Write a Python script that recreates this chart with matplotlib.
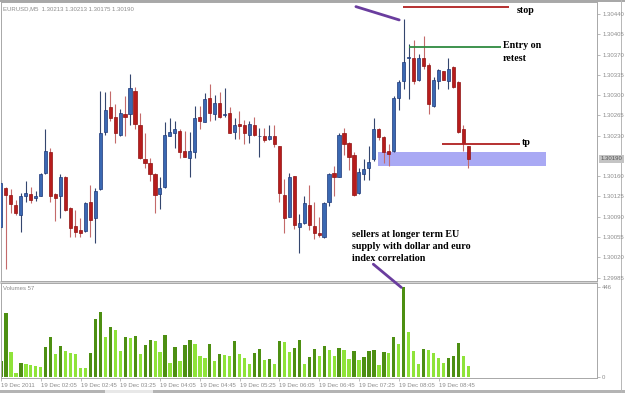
import matplotlib
matplotlib.use("Agg")
import matplotlib.pyplot as plt
from matplotlib.patches import Rectangle, ConnectionPatch

# ---------------- data ----------------
opens = [1.30073, 1.30140, 1.30128, 1.30111, 1.30093, 1.30126, 1.30130, 1.30122, 1.30125, 1.30166,
         1.30201, 1.30130, 1.30125, 1.30159, 1.30105, 1.30074, 1.30067, 1.30066, 1.30116, 1.30088,
         1.30138, 1.30237, 1.30279, 1.30263, 1.30232, 1.30268, 1.30267, 1.30308, 1.30249, 1.30190,
         1.30182, 1.30163, 1.30130, 1.30142, 1.30229, 1.30235, 1.30239, 1.30204, 1.30192, 1.30201,
         1.30263, 1.30253, 1.30296, 1.30267, 1.30287, 1.30265, 1.30270, 1.30237, 1.30251, 1.30249,
         1.30232, 1.30248, 1.30229, 1.30229, 1.30225, 1.30229, 1.30213, 1.30128, 1.30090, 1.30161,
         1.30073, 1.30079, 1.30111, 1.30074, 1.30062, 1.30055, 1.30116, 1.30166, 1.30159, 1.30234,
         1.30218, 1.30197, 1.30131, 1.30163, 1.30175, 1.30189, 1.30242, 1.30227, 1.30203, 1.30203,
         1.30296, 1.30324, 1.30364, 1.30365, 1.30327, 1.30365, 1.30352, 1.30281, 1.30324, 1.30341,
         1.30324, 1.30348, 1.30322, 1.30241, 1.30213]
highs = [1.30154, 1.30142, 1.30138, 1.30119, 1.30131, 1.30152, 1.30142, 1.30135, 1.30166, 1.30241,
         1.30209, 1.30131, 1.30164, 1.30161, 1.30107, 1.30102, 1.30088, 1.30116, 1.30145, 1.30140,
         1.30308, 1.30305, 1.30308, 1.30284, 1.30277, 1.30298, 1.30336, 1.30315, 1.30270, 1.30235,
         1.30192, 1.30166, 1.30159, 1.30253, 1.30261, 1.30256, 1.30241, 1.30239, 1.30237, 1.30281,
         1.30281, 1.30303, 1.30319, 1.30301, 1.30305, 1.30312, 1.30279, 1.30260, 1.30272, 1.30258,
         1.30255, 1.30263, 1.30244, 1.30244, 1.30248, 1.30248, 1.30213, 1.30156, 1.30166, 1.30161,
         1.30095, 1.30126, 1.30144, 1.30116, 1.30090, 1.30116, 1.30166, 1.30177, 1.30234, 1.30244,
         1.30220, 1.30201, 1.30175, 1.30190, 1.30213, 1.30260, 1.30244, 1.30229, 1.30215, 1.30298,
         1.30326, 1.30431, 1.30388, 1.30395, 1.30371, 1.30402, 1.30355, 1.30331, 1.30345, 1.30341,
         1.30365, 1.30350, 1.30324, 1.30249, 1.30213]
lows = [1.30069, 1.30000, 1.30097, 1.30093, 1.30064, 1.30116, 1.30114, 1.30118, 1.30125, 1.30163,
        1.30116, 1.30083, 1.30088, 1.30100, 1.30055, 1.30055, 1.30055, 1.30064, 1.30055, 1.30045,
        1.30137, 1.30232, 1.30255, 1.30218, 1.30230, 1.30230, 1.30249, 1.30242, 1.30190, 1.30175,
        1.30151, 1.30097, 1.30104, 1.30140, 1.30229, 1.30208, 1.30192, 1.30194, 1.30159, 1.30192,
        1.30241, 1.30253, 1.30255, 1.30258, 1.30260, 1.30263, 1.30234, 1.30225, 1.30225, 1.30215,
        1.30218, 1.30230, 1.30194, 1.30220, 1.30223, 1.30211, 1.30116, 1.30062, 1.30090, 1.30069,
        1.30028, 1.30078, 1.30067, 1.30052, 1.30055, 1.30054, 1.30109, 1.30125, 1.30158, 1.30196,
        1.30171, 1.30126, 1.30130, 1.30154, 1.30154, 1.30187, 1.30223, 1.30182, 1.30178, 1.30201,
        1.30275, 1.30310, 1.30293, 1.30320, 1.30324, 1.30345, 1.30267, 1.30279, 1.30310, 1.30326,
        1.30310, 1.30313, 1.30235, 1.30203, 1.30175]
closes = [1.30149, 1.30128, 1.30112, 1.30097, 1.30125, 1.30131, 1.30119, 1.30125, 1.30164, 1.30204,
          1.30126, 1.30123, 1.30159, 1.30102, 1.30071, 1.30064, 1.30062, 1.30114, 1.30085, 1.30135,
          1.30235, 1.30275, 1.30260, 1.30234, 1.30270, 1.30263, 1.30312, 1.30251, 1.30192, 1.30182,
          1.30164, 1.30128, 1.30140, 1.30232, 1.30237, 1.30241, 1.30201, 1.30194, 1.30204, 1.30261,
          1.30255, 1.30294, 1.30270, 1.30287, 1.30263, 1.30267, 1.30235, 1.30249, 1.30246, 1.30235,
          1.30251, 1.30232, 1.30230, 1.30222, 1.30230, 1.30215, 1.30131, 1.30088, 1.30159, 1.30076,
          1.30079, 1.30114, 1.30076, 1.30062, 1.30059, 1.30114, 1.30164, 1.30159, 1.30232, 1.30215,
          1.30194, 1.30128, 1.30168, 1.30173, 1.30185, 1.30241, 1.30227, 1.30201, 1.30199, 1.30296,
          1.30322, 1.30357, 1.30365, 1.30324, 1.30365, 1.30350, 1.30284, 1.30327, 1.30343, 1.30327,
          1.30345, 1.30315, 1.30237, 1.30218, 1.30190]
volumes = [80, 320, 126, 21, 68, 65, 60, 55, 50, 151,
           199, 113, 156, 128, 120, 115, 46, 46, 120, 290,
           325, 199, 251, 236, 128, 199, 196, 203, 113, 159,
           186, 179, 125, 211, 70, 149, 81, 159, 186, 163,
           105, 96, 163, 80, 115, 110, 106, 178, 113, 96,
           65, 120, 139, 85, 88, 65, 178, 174, 123, 144,
           186, 63, 100, 138, 105, 154, 134, 106, 144, 136,
           88, 129, 85, 98, 128, 136, 60, 125, 121, 199,
           163, 446, 224, 129, 63, 139, 133, 121, 96, 71,
           96, 103, 168, 105, 57]
time_labels = ["19 Dec 2011", "19 Dec 02:05", "19 Dec 02:45", "19 Dec 03:25",
               "19 Dec 04:05", "19 Dec 04:45", "19 Dec 05:25", "19 Dec 06:05",
               "19 Dec 06:45", "19 Dec 07:25", "19 Dec 08:05", "19 Dec 08:45"]
label_every = 8
price_ticks = [1.30440, 1.30405, 1.30370, 1.30335, 1.30300, 1.30265, 1.30230,
               1.30160, 1.30125, 1.30090, 1.30055, 1.30020, 1.29985]
current_price = 1.30190
volume_ticks = [0, 446]
stop_level = 1.30453
entry_level = 1.30383
tp_level = 1.30215
zone_low, zone_high = 1.30177, 1.30201

# ---------------- styling ----------------
W, H = 625, 393
GREY = "#8c8c8c"
BLUE_FACE, BLUE_EDGE, BLUE_WICK = "#3a68b2", "#1d3777", "#34466e"
RED_FACE, RED_EDGE, RED_WICK = "#b71c1c", "#8e1212", "#c46a6a"
VOL_UP, VOL_DOWN = "#4d8f12", "#8fe33a"
PURPLE = "#6a3d9e"
DARKRED = "#b02020"
GREEN = "#2f8a40"
small = dict(family="Liberation Sans", size=4.3, color=GREY)
note = dict(family="Liberation Serif", weight="bold", size=7.2, color="black")

fig = plt.figure(figsize=(W / 100, H / 100), dpi=100)
fig.patch.set_facecolor("white")


def px_rect(x0, y0, x1, y1):
    return [x0 / W, 1 - y1 / H, (x1 - x0) / W, (y1 - y0) / H]


# window chrome (MetaTrader frame)
for (x0, y0, x1, y1, col) in [(0, 0, 625, 1.5, "#a8a8a8"),
                              (0, 389.5, 625, 393, "#b4b4b4"),
                              (105, 389.5, 153, 393, "#e8e8e8"),
                              (620.5, 0, 622, 393, "#b8b8b8"),
                              (0, 280.5, 598, 283.5, "#d4d4d4")]:
    fig.add_artist(Rectangle((x0 / W, 1 - y1 / H), (x1 - x0) / W, (y1 - y0) / H,
                             transform=fig.transFigure, facecolor=col,
                             edgecolor="none", zorder=0))

ax = fig.add_axes(px_rect(1, 2, 597, 281))
axv = fig.add_axes(px_rect(1, 283, 597, 378))

pitch, x0px = 4.975, 0.7
xmin = (1 - x0px) / pitch
xmax = (597 - x0px) / pitch

# ---------------- candles ----------------
n = len(opens)
for i in range(n):
    o, h, l, c = opens[i], highs[i], lows[i], closes[i]
    up = c >= o
    wick = BLUE_WICK if up else RED_WICK
    ax.vlines(i, l, h, color=wick, lw=0.8, zorder=2)
    body = max(abs(c - o), 0.000012)
    ax.bar(i, body, bottom=min(o, c), width=0.64,
           color=BLUE_FACE if up else RED_FACE,
           edgecolor=BLUE_EDGE if up else RED_EDGE, linewidth=0.5, zorder=3)

ax.set_xlim(xmin, xmax)
ax.set_ylim(1.29979, 1.30461)
ax.set_yticks(price_ticks)
ax.set_yticklabels([f"{p:.5f}" for p in price_ticks])
ax.yaxis.tick_right()
ax.tick_params(axis="y", length=2.2, width=0.5, color="#a0a0a0", pad=1.5,
               labelsize=small["size"], labelcolor=GREY)
for t in ax.get_yticklabels():
    t.set_family(small["family"])
ax.set_xticks([])
for s in ax.spines.values():
    s.set_color("#a8a8a8")
    s.set_linewidth(0.7)

ax.text(1.006, current_price, f"{current_price:.5f}", transform=ax.get_yaxis_transform(),
        va="center", ha="left", fontsize=small["size"], family=small["family"],
        color="#555555", bbox=dict(facecolor="#c4c4c4", edgecolor="none", pad=0.9),
        clip_on=False, zorder=10)

ax.text(0.004, 0.985, "EURUSD,M5  1.30213 1.30213 1.30175 1.30190", transform=ax.transAxes,
        va="top", ha="left", **small)

# ---------------- annotations ----------------
ax.add_patch(Rectangle((75.9, zone_low), 109.7 - 75.9, zone_high - zone_low,
                       facecolor="#a9a9f4", edgecolor="none", zorder=1))
ax.hlines(stop_level, 80.8, 102.2, color=DARKRED, lw=1.3, zorder=5)
ax.hlines(entry_level, 82.1, 100.5, color=GREEN, lw=1.3, zorder=5)
ax.hlines(tp_level, 88.8, 104.4, color=DARKRED, lw=1.3, zorder=5)
ax.plot([71.4, 80.1], [1.30453, 1.30430], color=PURPLE, lw=2.0,
        solid_capstyle="round", zorder=6)

ax.text(103.7, 1.30446, "stop", va="center", ha="left", **note)
ax.text(100.9, 1.30385, "Entry on", va="center", ha="left", **note)
ax.text(100.9, 1.30364, "retest", va="center", ha="left", **note)
ax.text(104.7, 1.30219, "tp", va="center", ha="left", **note)
ax.text(70.7, 1.30059, "sellers at longer term EU", va="center", ha="left", **note)
ax.text(70.7, 1.30038, "supply with dollar and euro", va="center", ha="left", **note)
ax.text(70.7, 1.30018, "index correlation", va="center", ha="left", **note)

# ---------------- volumes ----------------
vcolors = []
for i, v in enumerate(volumes):
    if i == 0 or v > volumes[i - 1]:
        vcolors.append(VOL_UP)
    else:
        vcolors.append(VOL_DOWN)
axv.bar(range(n), volumes, width=0.66, color=vcolors, linewidth=0, zorder=2)
axv.set_xlim(xmin, xmax)
axv.set_ylim(-5, 468)
axv.set_yticks(volume_ticks)
axv.set_yticklabels([str(v) for v in volume_ticks])
axv.yaxis.tick_right()
axv.tick_params(axis="y", length=2.2, width=0.5, color="#a0a0a0", pad=1.5,
                labelsize=small["size"], labelcolor=GREY)
tick_pos = [k * label_every for k in range(len(time_labels))]
axv.set_xticks(tick_pos)
axv.set_xticklabels(time_labels)
axv.tick_params(axis="x", length=2.5, width=0.5, color="#a0a0a0", pad=1.0,
                labelsize=small["size"], labelcolor=GREY)
for t in axv.get_xticklabels():
    t.set_horizontalalignment("left")
    t.set_family(small["family"])
for t in axv.get_yticklabels():
    t.set_family(small["family"])
for s in axv.spines.values():
    s.set_color("#a8a8a8")
    s.set_linewidth(0.7)
axv.text(0.004, 0.97, f"Volumes {volumes[-1]}", transform=axv.transAxes,
         va="top", ha="left", **small)

con = ConnectionPatch(xyA=(74.9, 1.30008), coordsA=ax.transData,
                      xyB=(80.5, 446), coordsB=axv.transData,
                      color=PURPLE, lw=2.0, zorder=10)
fig.add_artist(con)

fig.savefig("out.png", dpi=100, facecolor="white")
